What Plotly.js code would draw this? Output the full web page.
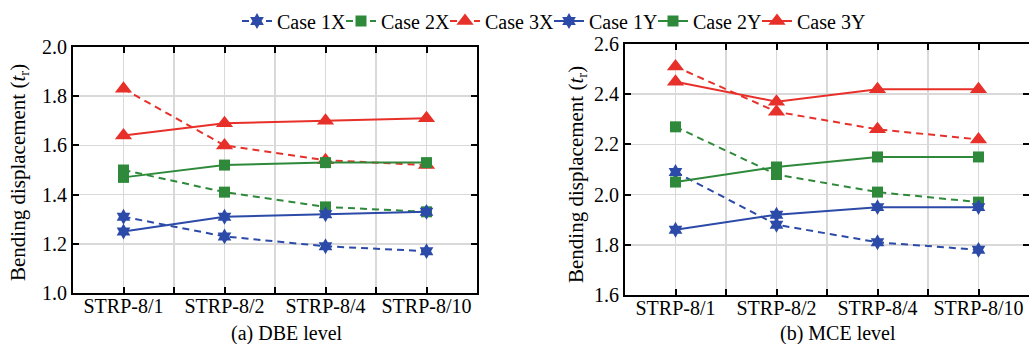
<!DOCTYPE html>
<html>
<head>
<meta charset="utf-8">
<script src="https://cdn.plot.ly/plotly-3.0.1.min.js"></script>
<style>html,body{margin:0;padding:0;background:#fff;}#chart{width:1029px;height:344px;}</style>
</head>
<body>
<div id="chart"></div>
<script>
// ---- data ----
const categories = ['STRP-8/1', 'STRP-8/2', 'STRP-8/4', 'STRP-8/10'];
const seriesNames = ['Case 1X', 'Case 2X', 'Case 3X', 'Case 1Y', 'Case 2Y', 'Case 3Y'];
// (a) DBE level
const dbe1X = [1.31, 1.23, 1.19, 1.17];
const dbe2X = [1.50, 1.41, 1.35, 1.33];
const dbe3X = [1.83, 1.60, 1.54, 1.52];
const dbe1Y = [1.25, 1.31, 1.32, 1.33];
const dbe2Y = [1.47, 1.52, 1.53, 1.53];
const dbe3Y = [1.64, 1.69, 1.70, 1.71];
// (b) MCE level
const mce1X = [2.09, 1.88, 1.81, 1.78];
const mce2X = [2.27, 2.08, 2.01, 1.97];
const mce3X = [2.51, 2.33, 2.26, 2.22];
const mce1Y = [1.86, 1.92, 1.95, 1.95];
const mce2Y = [2.05, 2.11, 2.15, 2.15];
const mce3Y = [2.45, 2.37, 2.42, 2.42];
const panelTitles = ['(a) DBE level', '(b) MCE level'];
const yTitle = 'Bending displacement (<i>t</i><sub>r</sub>)';

// ---- styles ----
const BLUE = '#2c4aa8', GREEN = '#2e8a3a', RED = '#e8302a';
const styles = [
  {color: BLUE, dash: '7px,5px', symbol: 'hexagram', size: 12},
  {color: GREEN, dash: '7px,5px', symbol: 'square', size: 11},
  {color: RED, dash: '7px,5px', symbol: 'triangle-up', size: 15},
  {color: BLUE, dash: 'solid', symbol: 'hexagram', size: 12},
  {color: GREEN, dash: 'solid', symbol: 'square', size: 11},
  {color: RED, dash: 'solid', symbol: 'triangle-up', size: 15}
];
const xIdx = categories.map((c, i) => i);
const dbe = [dbe1X, dbe2X, dbe3X, dbe1Y, dbe2Y, dbe3Y];
const mce = [mce1X, mce2X, mce3X, mce1Y, mce2Y, mce3Y];

const traces = [];
function addPanel(vals, xa, ya, showLeg) {
  vals.forEach((v, k) => {
    const s = styles[k];
    traces.push({
      x: xIdx, y: v, xaxis: xa, yaxis: ya, type: 'scatter', mode: 'lines+markers',
      name: seriesNames[k], showlegend: showLeg, legendgroup: seriesNames[k],
      line: {color: s.color, width: 2, dash: s.dash},
      marker: {color: s.color, symbol: s.symbol, size: s.size, line: {width: 0}}
    });
  });
}
addPanel(dbe, 'x', 'y', true);
addPanel(mce, 'x2', 'y2', false);
// invisible legend spacer (no drawn mark) so the last legend label is not clipped
traces.push({x: [0], y: [null], type: 'scatter', mode: 'lines', name: ' ', showlegend: true,
  line: {color: 'rgba(0,0,0,0)', width: 0}, hoverinfo: 'skip'});

const FONT = '"Liberation Serif", "Times New Roman", Times, serif';
const tv = [];
const tt = [];
categories.forEach((c, i) => {
  tv.push(i); tt.push(c);
  if (i < categories.length - 1) { tv.push(i + 0.5); tt.push(''); }
});
function xaxis(domain, anchor) {
  return {
    domain: domain, anchor: anchor, range: [-0.5, 3.5], tickmode: 'array', tickvals: tv, ticktext: tt,
    showgrid: true, gridcolor: '#d9d9d9', gridwidth: 1.5, zeroline: false,
    showline: true, linecolor: '#000', linewidth: 2, mirror: 'allticks',
    ticks: 'inside', ticklen: 6, tickwidth: 2, tickcolor: '#000', ticklabelstandoff: -6,
    tickfont: {family: FONT, size: 20, color: '#000'}, fixedrange: true
  };
}
function yaxis(domain, anchor, range) {
  return {
    domain: domain, anchor: anchor, range: range, dtick: 0.2, tickformat: '.1f',
    showgrid: true, gridcolor: '#d9d9d9', gridwidth: 1.5, zeroline: false,
    showline: true, linecolor: '#000', linewidth: 2, mirror: 'allticks',
    ticks: 'inside', ticklen: 6, tickwidth: 2, tickcolor: '#000',
    tickfont: {family: FONT, size: 20, color: '#000'}, fixedrange: true
  };
}
const H = 344, W = 1029;
const layout = {
  width: W, height: H, margin: {l: 0, r: 0, t: 0, b: 0},
  paper_bgcolor: '#fff', plot_bgcolor: '#fff',
  font: {family: FONT, size: 20, color: '#000'},
  xaxis: xaxis([73 / W, 477 / W], 'y'),
  yaxis: yaxis([1 - 293 / H, 1 - 47 / H], 'x', [1.0, 2.0]),
  xaxis2: xaxis([625 / W, 1], 'y2'),
  yaxis2: yaxis([1 - 295 / H, 1 - 44 / H], 'x2', [1.6, 2.6]),
  showlegend: true,
  legend: {
    orientation: 'h', x: 237 / W, xanchor: 'left', y: 1 - 21 / H, yanchor: 'middle',
    font: {family: FONT, size: 20, color: '#000'}, itemwidth: 30, bgcolor: 'rgba(0,0,0,0)',
    entrywidth: 59, entrywidthmode: 'pixels',
    tracegroupgap: 0, traceorder: 'normal'
  },
  annotations: [
    {text: panelTitles[0], xref: 'paper', yref: 'paper', x: 287 / W, y: 1 - 333 / H, xanchor: 'center', yanchor: 'middle', showarrow: false, font: {family: FONT, size: 20, color: '#000'}},
    {text: panelTitles[1], xref: 'paper', yref: 'paper', x: 838 / W, y: 1 - 333 / H, xanchor: 'center', yanchor: 'middle', showarrow: false, font: {family: FONT, size: 20, color: '#000'}},
    {text: yTitle, xref: 'paper', yref: 'paper', x: 19 / W, y: 1 - 173 / H, xanchor: 'center', yanchor: 'middle', textangle: -90, showarrow: false, font: {family: FONT, size: 21, color: '#000'}},
    {text: yTitle, xref: 'paper', yref: 'paper', x: 577 / W, y: 1 - 175 / H, xanchor: 'center', yanchor: 'middle', textangle: -90, showarrow: false, font: {family: FONT, size: 21, color: '#000'}}
  ]
};
Plotly.newPlot('chart', traces, layout, {staticPlot: true, displayModeBar: false});
</script>
</body>
</html>
